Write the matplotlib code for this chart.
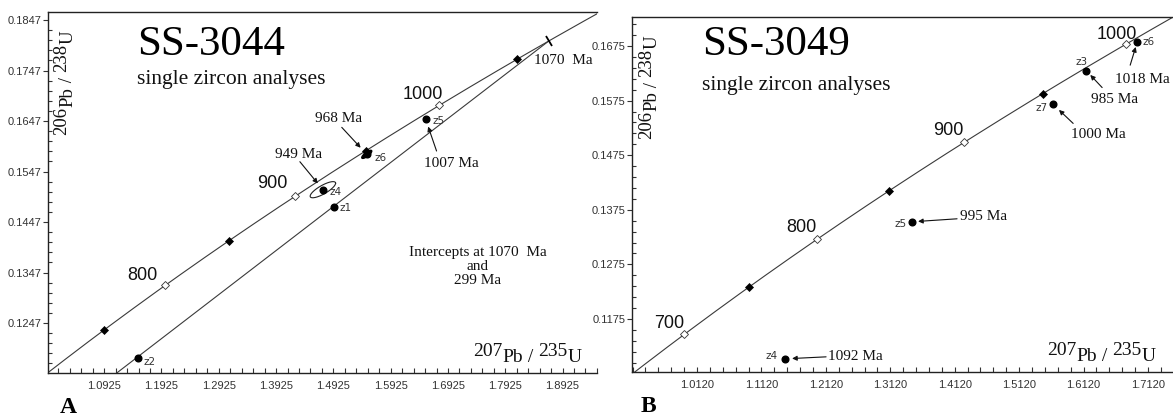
import numpy as np
import matplotlib
matplotlib.use("Agg")
import matplotlib.pyplot as plt
from matplotlib.markers import MarkerStyle
from matplotlib.transforms import Affine2D
from matplotlib.ticker import FixedLocator, FormatStrFormatter

# ---------------- data ----------------
L238 = 1.55125e-4   # per Ma
L235 = 9.8485e-4    # per Ma

# Panel A : SS-3044
a_labels = ['z1', 'z2', 'z4', 'z5', 'z6']
a_x = [1.4934, 1.1508, 1.4742, 1.6534, 1.5508]
a_y = [0.1477, 0.1178, 0.1511, 0.1651, 0.1581]
a_age_pts = ['z4', 'z6', 'z5']
a_age_txt = ['949 Ma', '968 Ma', '1007 Ma']
a_upper = 1070
a_lower = 299
a_open_ages = [800, 900, 1000]
a_filled_ages = [750, 850, 950, 1050]
a_z4_err = (0.0222, 0.00160, 0.80)   # sx, sy, rho
a_z6_err = (0.0087, 0.0008, 0.80)
a_xticks = [1.0925, 1.1925, 1.2925, 1.3925, 1.4925, 1.5925, 1.6925, 1.7925, 1.8925]
a_yticks = [0.1247, 0.1347, 0.1447, 0.1547, 0.1647, 0.1747, 0.1847]

# Panel B : SS-3049
b_labels = ['z3', 'z4', 'z5', 'z6', 'z7']
b_x = [1.616, 1.1487, 1.3458, 1.6952, 1.5648]
b_y = [0.1630, 0.1102, 0.1353, 0.1682, 0.1568]
b_age_txt = ['985 Ma', '1092 Ma', '995 Ma', '1018 Ma', '1000 Ma']
b_open_ages = [700, 800, 900, 1000]
b_filled_ages = [750, 850, 950]
b_xticks = [1.0120, 1.1120, 1.2120, 1.3120, 1.4120, 1.5120, 1.6120, 1.7120]
b_yticks = [0.1175, 0.1275, 0.1375, 0.1475, 0.1575, 0.1675]


def conc(t):
    t = np.asarray(t, dtype=float)
    return np.exp(L235 * t) - 1.0, np.exp(L238 * t) - 1.0


SERIF = 'Liberation Serif'
SANS = 'Liberation Sans'
LC = '#3a3a3a'

fig = plt.figure(figsize=(11.73, 4.17), dpi=100)
axA = fig.add_axes([48 / 1173, 44 / 417, 549 / 1173, 361 / 417])
axB = fig.add_axes([632 / 1173, 45 / 417, 541 / 1173, 355 / 417])

axA.set_xlim(0.9945, 1.9526)
axA.set_ylim(0.11480, 0.18629)
axB.set_xlim(0.9111, 1.7508)
axB.set_ylim(0.10779, 0.17281)


def style_axes(ax, xt, yt, xstep_minor, ystep_minor):
    ax.spines['right'].set_visible(False)
    for s in ['top', 'left', 'bottom']:
        ax.spines[s].set_linewidth(1.0)
        ax.spines[s].set_color('#222222')
    ax.xaxis.set_major_locator(FixedLocator(xt))
    ax.yaxis.set_major_locator(FixedLocator(yt))
    x0, x1 = ax.get_xlim()
    y0, y1 = ax.get_ylim()
    xm = xt[0] + xstep_minor * np.arange(-10, 60)
    ym = yt[0] + ystep_minor * np.arange(-10, 60)
    xm = xm[(xm > x0) & (xm < x1)]
    ym = ym[(ym > y0) & (ym < y1)]
    ax.xaxis.set_minor_locator(FixedLocator(xm))
    ax.yaxis.set_minor_locator(FixedLocator(ym))
    ax.xaxis.set_major_formatter(FormatStrFormatter('%.4f'))
    ax.yaxis.set_major_formatter(FormatStrFormatter('%.4f'))
    ax.tick_params(axis='x', which='both', direction='in', top=False,
                   length=3.5, width=0.8, color='#333333', pad=6,
                   labelsize=8, labelcolor='#333333')
    ax.tick_params(axis='y', which='major', direction='out', right=False,
                   length=3.5, width=0.8, color='#333333', pad=1,
                   labelsize=8, labelcolor='#333333')
    ax.tick_params(axis='y', which='minor', direction='in', right=False,
                   length=3, width=0.8, color='#333333')
    for lab in ax.get_xticklabels() + ax.get_yticklabels():
        lab.set_fontfamily(SANS)


style_axes(axA, a_xticks, a_yticks, 0.02, 0.002)
style_axes(axB, b_xticks, b_yticks, 0.02, 0.002)


def draw_concordia(ax, open_ages, filled_ages, label_offsets):
    t = np.linspace(500, 1300, 800)
    cx, cy = conc(t)
    ax.plot(cx, cy, color=LC, lw=0.8, zorder=2)
    fx, fy = conc(filled_ages)
    ax.plot(fx, fy, 'D', ms=3.6, mfc='black', mec='black', mew=0.5, zorder=4)
    ox, oy = conc(open_ages)
    ax.plot(ox, oy, 'D', ms=4.0, mfc='white', mec='#333333', mew=0.6, zorder=4)
    for age, x, y, off in zip(open_ages, ox, oy, label_offsets):
        ax.annotate(str(age), xy=(x, y), xytext=off, textcoords='offset pixels',
                    ha='center', va='center', fontsize=13, family=SANS,
                    color='#111111', zorder=6)


def ellipse(ax, cx, cy, err, filled=False):
    sx, sy, rho = err
    t = np.linspace(0, 2 * np.pi, 200)
    ex = cx + sx * np.cos(t)
    ey = cy + sy * (rho * np.cos(t) + np.sqrt(1 - rho ** 2) * np.sin(t))
    if filled:
        ax.fill(ex, ey, color='black', zorder=5)
    else:
        ax.plot(ex, ey, color='#222222', lw=0.8, zorder=5)


def arrow(ax, x, y, tail_off, shrink_px):
    ax.annotate('', xy=(x, y), xytext=tail_off, textcoords='offset pixels',
                arrowprops=dict(arrowstyle='-|>', color='#111111', lw=0.8,
                                mutation_scale=7, shrinkA=0,
                                shrinkB=shrink_px * 0.72),
                zorder=6)


def chain_label(ax, x0, y0, pieces, size, rotated=False):
    prev = None
    for s, dy in pieces:
        kw = dict(fontsize=size, family=SERIF, color='#111111',
                  ha='left', va='baseline', textcoords='offset points', zorder=7)
        if rotated:
            kw.update(rotation=90, rotation_mode='anchor')
            off = (-dy, 0)
            if prev is None:
                xy, xyc = (x0, y0), 'axes fraction'
            else:
                xy, xyc = (x0, 1.0), ('axes fraction', prev)
        else:
            off = (0, dy)
            if prev is None:
                xy, xyc = (x0, y0), 'axes fraction'
            else:
                xy, xyc = (1.0, y0), (prev, 'axes fraction')
        prev = ax.annotate(s, xy=xy, xycoords=xyc, xytext=off, **kw)
    return prev


# ---------------- Panel A ----------------
draw_concordia(axA, a_open_ages, a_filled_ages, [(-23, 10), (-23, 13), (-17, 11)])

ux, uy = conc(a_upper)
lx, ly = conc(a_lower)
axA.plot([lx, ux], [ly, uy], color=LC, lw=0.8, zorder=2)

# intercept tick mark perpendicular to concordia
p1 = axA.transData.transform(conc(a_upper - 5))
p2 = axA.transData.transform(conc(a_upper + 5))
ang = np.degrees(np.arctan2(p2[1] - p1[1], p2[0] - p1[0]))
mk = MarkerStyle('|', transform=Affine2D().rotate_deg(ang))
axA.plot([ux], [uy], marker=mk, ms=9, mew=1.3, color='black', zorder=5)
axA.annotate('%d  Ma' % a_upper, xy=(ux, uy), xytext=(-15, -20),
             textcoords='offset pixels', ha='left', va='center',
             fontsize=11, family=SERIF, color='#111111')

A = dict(zip(a_labels, zip(a_x, a_y)))
ellipse(axA, *A['z4'], a_z4_err)
ellipse(axA, *A['z6'], a_z6_err, filled=True)
axA.plot(a_x, a_y, 'o', ms=4.8, color='black', zorder=6)

a_lab_off = {'z1': (6, -1), 'z2': (6, -4), 'z4': (7, -2), 'z5': (7, -2), 'z6': (8, -4)}
for lab, (x, y) in A.items():
    axA.annotate(lab, xy=(x, y), xytext=a_lab_off[lab], textcoords='offset pixels',
                 ha='left', va='center', fontsize=7.5, family='DejaVu Sans',
                 color='#333333', zorder=7)

a_arrow = {'z4': ((-23, 28), 8, (-24, 35)),
           'z6': ((-25, 27), 9, (-28, 36)),
           'z5': ((11, -32), 8, (26, -44))}
for p, txt in zip(a_age_pts, a_age_txt):
    x, y = A[p]
    tail, shr, toff = a_arrow[p]
    arrow(axA, x, y, tail, shr)
    axA.annotate(txt, xy=(x, y), xytext=toff, textcoords='offset pixels',
                 ha='center', va='center', fontsize=11, family=SERIF,
                 color='#111111', zorder=7)

axA.text(0.162, 0.909, 'SS-3044', transform=axA.transAxes, ha='left', va='center',
         fontsize=31, family=SERIF, color='black')
axA.text(0.162, 0.812, 'single zircon analyses', transform=axA.transAxes,
         ha='left', va='center', fontsize=15.5, family=SERIF, color='#111111')
axA.text(0.783, 0.294, 'Intercepts at %d  Ma\nand\n%d Ma' % (a_upper, a_lower),
         transform=axA.transAxes, ha='center', va='center', fontsize=11,
         family=SERIF, color='#111111', linespacing=1.1)

xl_pieces = [('207', 4.5), ('Pb', 0), (' / ', 0), ('235', 4.5), ('U', 0)]
yl_pieces = [('206', 4.5), ('Pb', 0), (' / ', 0), ('238', 4.5), ('U', 0)]
chain_label(axA, 0.774, 0.030, xl_pieces, 14)
chain_label(axA, 0.044, 0.659, yl_pieces, 13.5, rotated=True)

# ---------------- Panel B ----------------
draw_concordia(axB, b_open_ages, b_filled_ages,
               [(-15, 11), (-16, 12), (-16, 12), (-9, 10)])
axB.plot(b_x, b_y, 'o', ms=4.8, color='black', zorder=6)

b_lab = {'z3': ((-5, 9), 'center'), 'z4': ((-7, 3), 'right'), 'z5': ((-5, -2), 'right'),
         'z6': ((5, 0), 'left'), 'z7': ((-6, -4), 'right')}
b_arr = {'z3': ((16, -17), 6, (28, -29), 'center'),
         'z4': ((41, 2), 7, (43, 2), 'left'),
         'z5': ((45, 3), 6, (48, 5), 'left'),
         'z6': ((-7, -23), 5, (5, -37), 'center'),
         'z7': ((20, -19), 8, (45, -30), 'center')}
for lab, x, y, txt in zip(b_labels, b_x, b_y, b_age_txt):
    off, ha = b_lab[lab]
    axB.annotate(lab, xy=(x, y), xytext=off, textcoords='offset pixels',
                 ha=ha, va='center', fontsize=7.5, family='DejaVu Sans',
                 color='#333333', zorder=7)
    tail, shr, toff, tha = b_arr[lab]
    arrow(axB, x, y, tail, shr)
    axB.annotate(txt, xy=(x, y), xytext=toff, textcoords='offset pixels',
                 ha=tha, va='center', fontsize=11, family=SERIF,
                 color='#111111', zorder=7)

axB.text(0.129, 0.921, 'SS-3049', transform=axB.transAxes, ha='left', va='center',
         fontsize=31, family=SERIF, color='black')
axB.text(0.129, 0.808, 'single zircon analyses', transform=axB.transAxes,
         ha='left', va='center', fontsize=15.5, family=SERIF, color='#111111')
chain_label(axB, 0.767, 0.030, xl_pieces, 14)
chain_label(axB, 0.046, 0.655, yl_pieces, 13.5, rotated=True)

fig.text(68 / 1173, 0.022, 'A', ha='center', va='center', fontsize=17,
         family=SERIF, weight='bold')
fig.text(648 / 1173, 0.024, 'B', ha='center', va='center', fontsize=17,
         family=SERIF, weight='bold')

fig.savefig('out.png', dpi=100)
